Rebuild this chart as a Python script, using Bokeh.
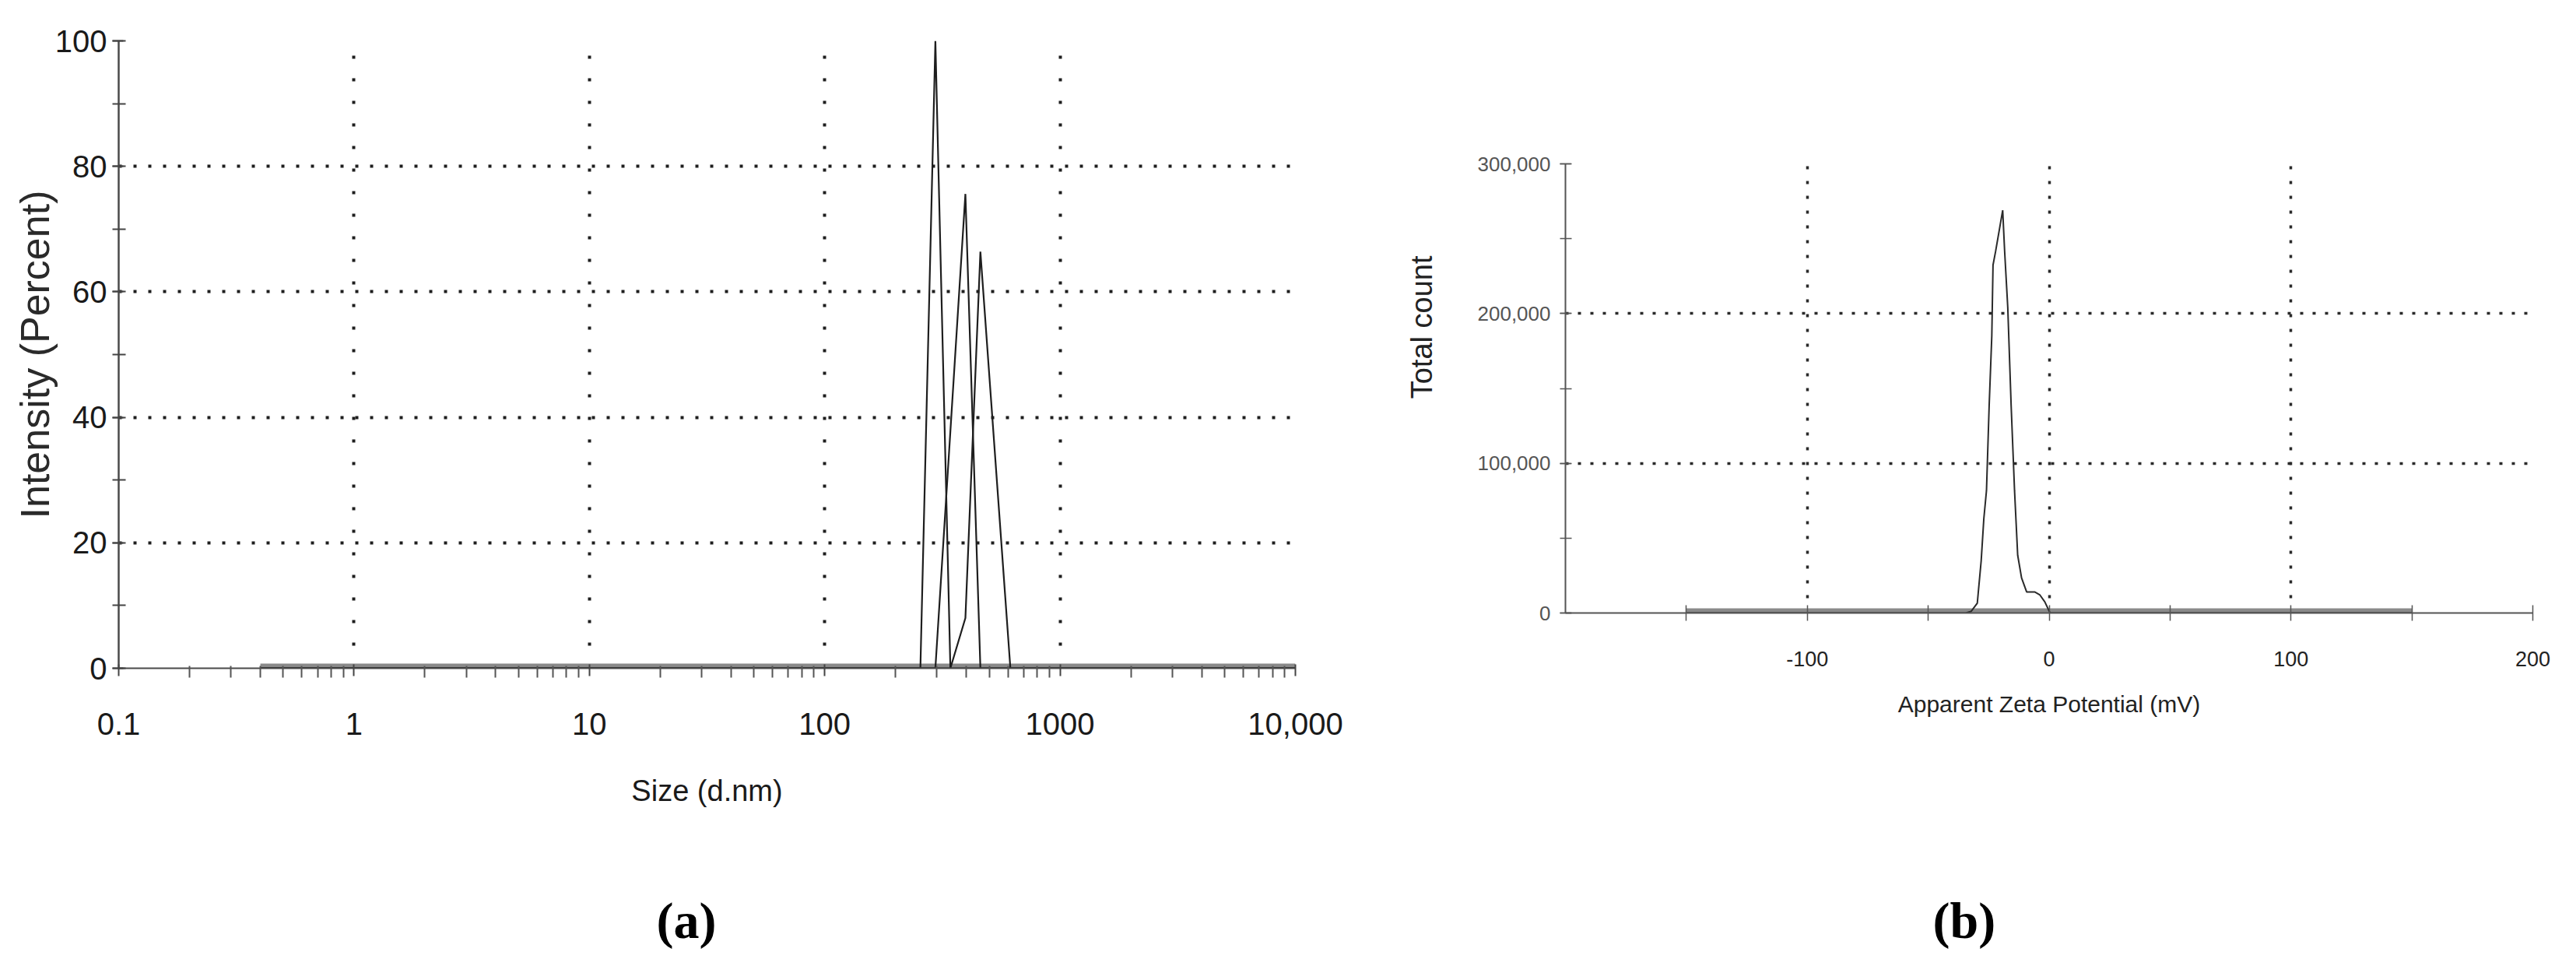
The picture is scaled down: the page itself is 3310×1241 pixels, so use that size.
from bokeh.plotting import figure
from bokeh.layouts import row, column
from bokeh.models import (Range1d, FixedTicker, SingleIntervalTicker, NumeralTickFormatter,
                          Title, Spacer, LinearAxis)
from bokeh.embed import file_html
from bokeh.resources import INLINE

# ---------------- data: panel (a) size distribution by intensity ----------------
size_ticks = [0.1, 1, 10, 100, 1000, 10000]
size_tick_labels = ["0.1", "1", "10", "100", "1000", "10,000"]
intensity_ticks = [0, 20, 40, 60, 80, 100]

run1_size = [0.4, 255.0, 295.3, 342.0, 10000]
run1_intensity = [0, 0, 100.0, 0, 0]
run2_size = [0.4, 295.3, 396.1, 458.7, 10000]
run2_intensity = [0, 0, 75.6, 0, 0]
run3_size = [0.4, 342.0, 396.1, 458.7, 615.1, 10000]
run3_intensity = [0, 0, 8.0, 66.4, 0, 0]

# ---------------- data: panel (b) zeta potential distribution ----------------
zeta_ticks = [-100, 0, 100, 200]
zeta_minor_ticks = [-150, -50, 50, 150]
count_ticks = [0, 100000, 200000, 300000]

zeta_mv = [-150, -34.5, -32.3, -29.7, -28.1, -27.0, -25.9, -24.8, -23.7, -23.2, -22.1,
           -20.5, -19.2, -18.4, -17.1, -15.7, -14.3, -13.0, -11.4, -9.3, -6.0, -3.9,
           -1.8, 0.4, 150]
zeta_count = [0, 0, 1000, 6600, 34800, 63000, 81800, 138300, 185300, 232400, 241800,
              256800, 269000, 241800, 204100, 138300, 81800, 38600, 23500, 14100, 14100,
              12200, 7500, 0, 0]

SANS = "Liberation Sans"
SERIF = "Liberation Serif"
H = 1222


def spacer_axis(tick_value, size):
    # an invisible axis that only reserves `size` pixels in a side panel
    return LinearAxis(ticker=FixedTicker(ticks=[tick_value]), axis_label=None,
                      axis_line_color=None, major_tick_line_color=None,
                      minor_tick_line_color=None, major_tick_in=0, major_tick_out=size,
                      minor_tick_in=0, minor_tick_out=0, major_label_standoff=0,
                      major_label_text_color=None, major_label_text_font_size="1px")


# ================= panel (a) =================
pa = figure(width=1752, height=H, x_axis_type="log",
            x_range=Range1d(0.1, 10000), y_range=Range1d(0, 100),
            output_backend="svg", toolbar_location=None,
            min_border_left=152, min_border_right=88,
            min_border_top=52, min_border_bottom=H - 52 - 806)
pa.outline_line_color = None
pa.background_fill_color = "white"
pa.border_fill_color = "white"

pa.xgrid.ticker = FixedTicker(ticks=size_ticks[1:])
pa.xgrid.grid_line_color = "#1e1e1e"
pa.xgrid.grid_line_width = 4
pa.xgrid.grid_line_dash = "4 25"
pa.ygrid.ticker = FixedTicker(ticks=intensity_ticks[1:])
pa.ygrid.grid_line_color = "#1e1e1e"
pa.ygrid.grid_line_width = 4
pa.ygrid.grid_line_dash = "4 15"

minor_sizes = [m * 10.0 ** e for e in range(-1, 4) for m in range(2, 10)]
xa = pa.xaxis[0]
xa.ticker = FixedTicker(ticks=size_ticks, minor_ticks=minor_sizes)
xa.formatter = NumeralTickFormatter(format="0,0.[0]")
xa.major_label_overrides = dict(zip(size_ticks, size_tick_labels))
xa.axis_line_color = "#4a4a4a"
xa.axis_line_width = 2
xa.major_tick_in = 5
xa.major_tick_out = 10
xa.minor_tick_in = 3
xa.minor_tick_out = 12
xa.major_tick_line_color = "#444444"
xa.major_tick_line_width = 2
xa.minor_tick_line_color = "#555555"
xa.minor_tick_line_width = 2
xa.major_label_standoff = 45
xa.major_label_text_font = SANS
xa.major_label_text_font_size = "40px"
xa.major_label_text_color = "#1a1a1a"
xa.axis_label = "Size (d.nm)"
xa.axis_label_text_font = SANS
xa.axis_label_text_font_size = "38px"
xa.axis_label_text_font_style = "normal"
xa.axis_label_text_color = "#1a1a1a"
xa.axis_label_standoff = 48

ya = pa.yaxis[0]
ya.ticker = SingleIntervalTicker(interval=20, num_minor_ticks=2)
ya.axis_line_color = "#4a4a4a"
ya.axis_line_width = 2.5
ya.major_tick_in = 6
ya.major_tick_out = 8
ya.minor_tick_in = 9
ya.minor_tick_out = 8
ya.major_tick_line_color = "#444444"
ya.major_tick_line_width = 2
ya.minor_tick_line_color = "#444444"
ya.minor_tick_line_width = 2
ya.major_label_standoff = 7
ya.major_label_text_font = SANS
ya.major_label_text_font_size = "40px"
ya.major_label_text_color = "#1a1a1a"
ya.axis_label = "Intensity (Percent)"
ya.axis_label_text_font = SANS
ya.axis_label_text_font_size = "52px"
ya.axis_label_text_font_style = "normal"
ya.axis_label_text_color = "#2a2a2a"
ya.axis_label_standoff = -6

pa.line([run1_size[0], run1_size[-1]], [0, 0], line_color="#8a8a8a", line_width=12)
for xs, ys in [(run1_size, run1_intensity), (run2_size, run2_intensity), (run3_size, run3_intensity)]:
    pa.line(xs, ys, line_color="#1e1e1e", line_width=2.2)

pa.add_layout(spacer_axis(1, 104), "below")
pa.add_layout(Title(text="(a)", align="left", offset=691, vertical_align="top", standoff=4,
                    text_font=SERIF, text_font_size="66px", text_font_style="bold",
                    text_color="black"), "below")

# ================= panel (b) =================
B_TOP_GAP = 158
pb = figure(width=1536, height=H - B_TOP_GAP,
            x_range=Range1d(-200, 200), y_range=Range1d(0, 300000),
            output_backend="svg", toolbar_location=None,
            min_border_left=259, min_border_right=34,
            min_border_top=52, min_border_bottom=H - B_TOP_GAP - 52 - 579)
pb.outline_line_color = None
pb.background_fill_color = "white"
pb.border_fill_color = "white"

pb.xgrid.ticker = FixedTicker(ticks=zeta_ticks)
pb.xgrid.grid_line_color = "#2a2a2a"
pb.xgrid.grid_line_width = 3.5
pb.xgrid.grid_line_dash = "4 15"
pb.ygrid.ticker = FixedTicker(ticks=count_ticks[1:])
pb.ygrid.grid_line_color = "#2a2a2a"
pb.ygrid.grid_line_width = 3.5
pb.ygrid.grid_line_dash = "4 12"

xb = pb.xaxis[0]
xb.ticker = FixedTicker(ticks=zeta_ticks, minor_ticks=zeta_minor_ticks)
xb.formatter = NumeralTickFormatter(format="0")
xb.axis_line_color = "#555555"
xb.axis_line_width = 2
xb.major_tick_in = 10
xb.major_tick_out = 10
xb.minor_tick_in = 10
xb.minor_tick_out = 10
xb.major_tick_line_color = "#555555"
xb.minor_tick_line_color = "#555555"
xb.major_tick_line_width = 1.5
xb.minor_tick_line_width = 1.5
xb.major_label_standoff = 39
xb.major_label_text_font = SANS
xb.major_label_text_font_size = "27px"
xb.major_label_text_color = "#222222"
xb.axis_label = "Apparent Zeta Potential (mV)"
xb.axis_label_text_font = SANS
xb.axis_label_text_font_size = "30px"
xb.axis_label_text_font_style = "normal"
xb.axis_label_text_color = "#222222"
xb.axis_label_standoff = 29

yb = pb.yaxis[0]
yb.ticker = SingleIntervalTicker(interval=100000, num_minor_ticks=2)
yb.formatter = NumeralTickFormatter(format="0,0")
yb.axis_line_color = "#555555"
yb.axis_line_width = 2
yb.major_tick_in = 7
yb.major_tick_out = 7
yb.minor_tick_in = 8
yb.minor_tick_out = 7
yb.major_tick_line_color = "#555555"
yb.minor_tick_line_color = "#555555"
yb.major_tick_line_width = 1.5
yb.minor_tick_line_width = 1.5
yb.major_label_standoff = 12
yb.major_label_text_font = SANS
yb.major_label_text_font_size = "26px"
yb.major_label_text_color = "#555555"

pb.line([zeta_mv[0], zeta_mv[-1]], [0, 0], line_color="#8a8a8a", line_width=12)
pb.line(zeta_mv, zeta_count, line_color="#2a2a2a", line_width=2)

pb.add_layout(spacer_axis(100000, 45), "left")
pb.add_layout(Title(text="Total count", align="right", offset=118, vertical_align="middle",
                    standoff=4, text_font=SANS, text_font_size="38px",
                    text_font_style="normal", text_color="#222222"), "left")
pb.add_layout(spacer_axis(0, 220), "below")
pb.add_layout(Title(text="(b)", align="left", offset=472, vertical_align="top", standoff=4,
                    text_font=SERIF, text_font_size="66px", text_font_style="bold",
                    text_color="black"), "below")

layout = row(column(pa), column(Spacer(width=1536, height=B_TOP_GAP), pb))
open("out.html", "w").write(file_html(layout, INLINE))
